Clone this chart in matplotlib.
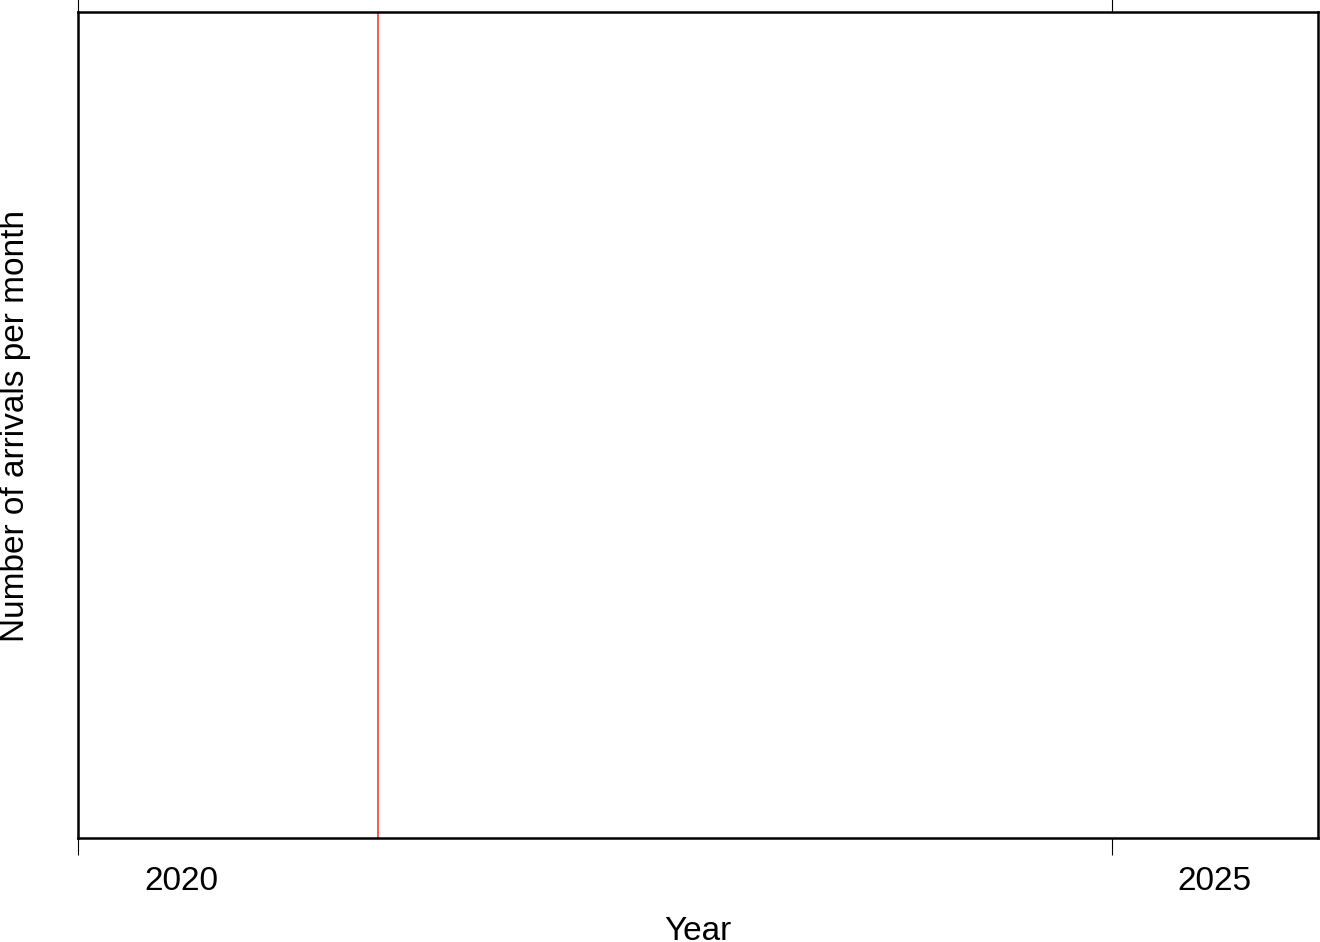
import numpy as np
import pandas as pd
import matplotlib
matplotlib.use("Agg")
import matplotlib.pyplot as plt
import matplotlib.dates as mdates

plt.rcParams['font.family'] = ['Liberation Sans', 'DejaVu Sans']

# data
x_start = pd.Timestamp('2020-01-01')
x_end = pd.Timestamp('2026-01-01')
tick_years = [2020, 2025]
event_date = pd.Timestamp('2021-06-15')

fig = plt.figure(figsize=(13.2, 9.42), dpi=100)
ax = fig.add_axes([78/1320, 1 - 838/942, 1240/1320, 826/942])

ax.axvline(event_date, color='#ff4a4a', lw=1.3)

ax.set_xlim(x_start, x_end)
ax.set_ylim(0, 1)

major = [pd.Timestamp(f'{y}-01-01') for y in tick_years]
mid = [pd.Timestamp(f'{y}-07-02') for y in tick_years]
ax.set_xticks(major)
ax.set_xticklabels([])
ax.set_xticks(mid, minor=True)
ax.set_xticklabels([str(y) for y in tick_years], minor=True, fontsize=24)
ax.tick_params(axis='x', which='major', length=12, width=0.8, top=True, direction='out')
ax.tick_params(axis='x', which='minor', length=0, pad=20)
ax.set_yticks([])

for s in ax.spines.values():
    s.set_linewidth(1.8)

fig.text(698/1320, 1 - 931/942, 'Year', fontsize=24, ha='center', va='center')
fig.text(16/1320, 1 - 426/942, 'Number of arrivals per month', fontsize=24,
         rotation=90, ha='center', va='center')

fig.savefig('out.png', dpi=100)
